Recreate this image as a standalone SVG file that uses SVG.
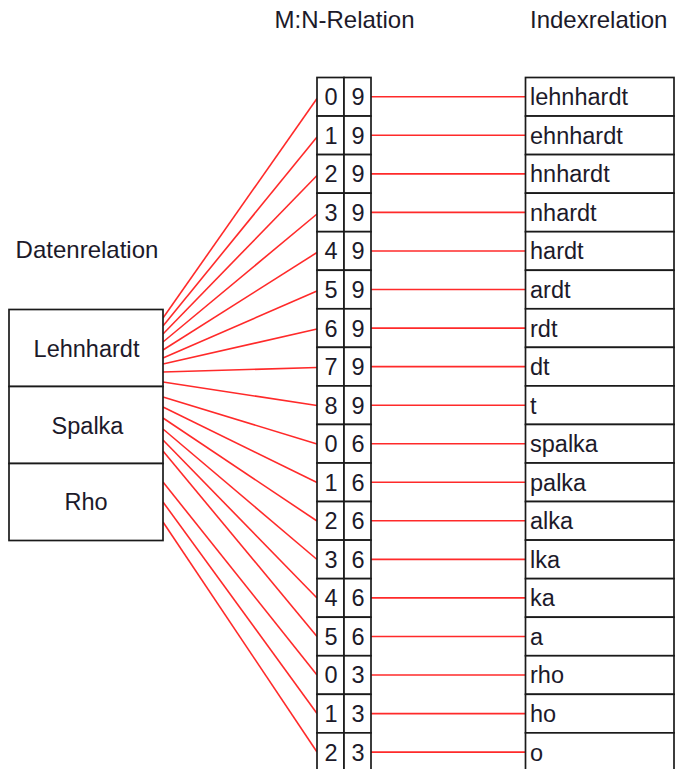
<svg xmlns="http://www.w3.org/2000/svg" width="675" height="769" viewBox="0 0 675 769">
  <style>
    .cell { fill: #ffffff; stroke: #1a1a1a; stroke-width: 1.7; }
    .txt { font-family: "Liberation Sans", Arial, sans-serif; font-size: 23.5px; fill: #1c1a2a; }
    .hdr { font-family: "Liberation Sans", Arial, sans-serif; font-size: 24px; fill: #1c1a2a; }
    .mid { text-anchor: middle; }
    .link { stroke: #ff2a2a; stroke-width: 1.6; fill: none; }
  </style>
  <rect width="675" height="769" fill="#ffffff"/>

  <!-- column headings -->
  <g id="headings">
    <text class="hdr mid" x="344.5" y="28">M:N-Relation</text>
    <text class="hdr" x="530" y="28">Indexrelation</text>
    <text class="hdr mid" x="87" y="258">Datenrelation</text>
  </g>

  <!-- connectors: data rows -> M:N rows -> index rows -->
  <g id="connectors">
    <path class="link" d="M163,318 L317,98.5"/>
    <path class="link" d="M163,326 L317,137"/>
    <path class="link" d="M163,334 L317,175.5"/>
    <path class="link" d="M163,342 L317,214"/>
    <path class="link" d="M163,350 L317,252.5"/>
    <path class="link" d="M163,358 L317,291"/>
    <path class="link" d="M163,364 L317,329"/>
    <path class="link" d="M163,372 L317,367.5"/>
    <path class="link" d="M163,382 L317,405.5"/>
    <path class="link" d="M163,397 L317,444"/>
    <path class="link" d="M163,407 L317,482.5"/>
    <path class="link" d="M163,418 L317,521"/>
    <path class="link" d="M163,429 L317,559.5"/>
    <path class="link" d="M163,440 L317,598"/>
    <path class="link" d="M163,451 L317,636.5"/>
    <path class="link" d="M163,482 L317,675"/>
    <path class="link" d="M163,502 L317,713.5"/>
    <path class="link" d="M163,522 L317,752"/>

    <path class="link" d="M371,96.8 H525.5"/>
    <path class="link" d="M371,135.3 H525.5"/>
    <path class="link" d="M371,173.9 H525.5"/>
    <path class="link" d="M371,212.4 H525.5"/>
    <path class="link" d="M371,251 H525.5"/>
    <path class="link" d="M371,289.5 H525.5"/>
    <path class="link" d="M371,328.1 H525.5"/>
    <path class="link" d="M371,366.6 H525.5"/>
    <path class="link" d="M371,405.2 H525.5"/>
    <path class="link" d="M371,443.7 H525.5"/>
    <path class="link" d="M371,482.3 H525.5"/>
    <path class="link" d="M371,520.8 H525.5"/>
    <path class="link" d="M371,559.4 H525.5"/>
    <path class="link" d="M371,597.9 H525.5"/>
    <path class="link" d="M371,636.5 H525.5"/>
    <path class="link" d="M371,675 H525.5"/>
    <path class="link" d="M371,713.6 H525.5"/>
    <path class="link" d="M371,752.1 H525.5"/>
  </g>

  <!-- Datenrelation -->
  <g id="daten-lehnhardt">
    <rect class="cell" x="9" y="309.5" width="154" height="77"/>
    <text class="txt mid" x="86.5" y="357">Lehnhardt</text>
  </g>
  <g id="daten-spalka">
    <rect class="cell" x="9" y="386.5" width="154" height="77"/>
    <text class="txt mid" x="87.5" y="433.5">Spalka</text>
  </g>
  <g id="daten-rho">
    <rect class="cell" x="9" y="463.5" width="154" height="77"/>
    <text class="txt mid" x="86" y="510">Rho</text>
  </g>

  <!-- M:N-Relation rows -->
  <g id="mn-0"><rect class="cell" x="317" y="77.5" width="27" height="38.55"/><rect class="cell" x="344" y="77.5" width="27" height="38.55"/><text class="txt mid" x="331" y="105.2">0</text><text class="txt mid" x="358" y="105.2">9</text></g>
  <g id="mn-1"><rect class="cell" x="317" y="116.05" width="27" height="38.55"/><rect class="cell" x="344" y="116.05" width="27" height="38.55"/><text class="txt mid" x="331" y="143.7">1</text><text class="txt mid" x="358" y="143.7">9</text></g>
  <g id="mn-2"><rect class="cell" x="317" y="154.6" width="27" height="38.55"/><rect class="cell" x="344" y="154.6" width="27" height="38.55"/><text class="txt mid" x="331" y="182.3">2</text><text class="txt mid" x="358" y="182.3">9</text></g>
  <g id="mn-3"><rect class="cell" x="317" y="193.15" width="27" height="38.55"/><rect class="cell" x="344" y="193.15" width="27" height="38.55"/><text class="txt mid" x="331" y="220.8">3</text><text class="txt mid" x="358" y="220.8">9</text></g>
  <g id="mn-4"><rect class="cell" x="317" y="231.7" width="27" height="38.55"/><rect class="cell" x="344" y="231.7" width="27" height="38.55"/><text class="txt mid" x="331" y="259.4">4</text><text class="txt mid" x="358" y="259.4">9</text></g>
  <g id="mn-5"><rect class="cell" x="317" y="270.25" width="27" height="38.55"/><rect class="cell" x="344" y="270.25" width="27" height="38.55"/><text class="txt mid" x="331" y="297.9">5</text><text class="txt mid" x="358" y="297.9">9</text></g>
  <g id="mn-6"><rect class="cell" x="317" y="308.8" width="27" height="38.55"/><rect class="cell" x="344" y="308.8" width="27" height="38.55"/><text class="txt mid" x="331" y="336.5">6</text><text class="txt mid" x="358" y="336.5">9</text></g>
  <g id="mn-7"><rect class="cell" x="317" y="347.35" width="27" height="38.55"/><rect class="cell" x="344" y="347.35" width="27" height="38.55"/><text class="txt mid" x="331" y="375">7</text><text class="txt mid" x="358" y="375">9</text></g>
  <g id="mn-8"><rect class="cell" x="317" y="385.9" width="27" height="38.55"/><rect class="cell" x="344" y="385.9" width="27" height="38.55"/><text class="txt mid" x="331" y="413.6">8</text><text class="txt mid" x="358" y="413.6">9</text></g>
  <g id="mn-9"><rect class="cell" x="317" y="424.45" width="27" height="38.55"/><rect class="cell" x="344" y="424.45" width="27" height="38.55"/><text class="txt mid" x="331" y="452.1">0</text><text class="txt mid" x="358" y="452.1">6</text></g>
  <g id="mn-10"><rect class="cell" x="317" y="463" width="27" height="38.55"/><rect class="cell" x="344" y="463" width="27" height="38.55"/><text class="txt mid" x="331" y="490.7">1</text><text class="txt mid" x="358" y="490.7">6</text></g>
  <g id="mn-11"><rect class="cell" x="317" y="501.55" width="27" height="38.55"/><rect class="cell" x="344" y="501.55" width="27" height="38.55"/><text class="txt mid" x="331" y="529.2">2</text><text class="txt mid" x="358" y="529.2">6</text></g>
  <g id="mn-12"><rect class="cell" x="317" y="540.1" width="27" height="38.55"/><rect class="cell" x="344" y="540.1" width="27" height="38.55"/><text class="txt mid" x="331" y="567.8">3</text><text class="txt mid" x="358" y="567.8">6</text></g>
  <g id="mn-13"><rect class="cell" x="317" y="578.65" width="27" height="38.55"/><rect class="cell" x="344" y="578.65" width="27" height="38.55"/><text class="txt mid" x="331" y="606.3">4</text><text class="txt mid" x="358" y="606.3">6</text></g>
  <g id="mn-14"><rect class="cell" x="317" y="617.2" width="27" height="38.55"/><rect class="cell" x="344" y="617.2" width="27" height="38.55"/><text class="txt mid" x="331" y="644.9">5</text><text class="txt mid" x="358" y="644.9">6</text></g>
  <g id="mn-15"><rect class="cell" x="317" y="655.75" width="27" height="38.55"/><rect class="cell" x="344" y="655.75" width="27" height="38.55"/><text class="txt mid" x="331" y="683.4">0</text><text class="txt mid" x="358" y="683.4">3</text></g>
  <g id="mn-16"><rect class="cell" x="317" y="694.3" width="27" height="38.55"/><rect class="cell" x="344" y="694.3" width="27" height="38.55"/><text class="txt mid" x="331" y="722">1</text><text class="txt mid" x="358" y="722">3</text></g>
  <g id="mn-17"><rect class="cell" x="317" y="732.85" width="27" height="38.55"/><rect class="cell" x="344" y="732.85" width="27" height="38.55"/><text class="txt mid" x="331" y="760.5">2</text><text class="txt mid" x="358" y="760.5">3</text></g>

  <!-- Indexrelation rows -->
  <g id="idx-0"><rect class="cell" x="525.5" y="77.5" width="148.5" height="38.55"/><text class="txt" x="530" y="105.2">lehnhardt</text></g>
  <g id="idx-1"><rect class="cell" x="525.5" y="116.05" width="148.5" height="38.55"/><text class="txt" x="530" y="143.7">ehnhardt</text></g>
  <g id="idx-2"><rect class="cell" x="525.5" y="154.6" width="148.5" height="38.55"/><text class="txt" x="530" y="182.3">hnhardt</text></g>
  <g id="idx-3"><rect class="cell" x="525.5" y="193.15" width="148.5" height="38.55"/><text class="txt" x="530" y="220.8">nhardt</text></g>
  <g id="idx-4"><rect class="cell" x="525.5" y="231.7" width="148.5" height="38.55"/><text class="txt" x="530" y="259.4">hardt</text></g>
  <g id="idx-5"><rect class="cell" x="525.5" y="270.25" width="148.5" height="38.55"/><text class="txt" x="530" y="297.9">ardt</text></g>
  <g id="idx-6"><rect class="cell" x="525.5" y="308.8" width="148.5" height="38.55"/><text class="txt" x="530" y="336.5">rdt</text></g>
  <g id="idx-7"><rect class="cell" x="525.5" y="347.35" width="148.5" height="38.55"/><text class="txt" x="530" y="375">dt</text></g>
  <g id="idx-8"><rect class="cell" x="525.5" y="385.9" width="148.5" height="38.55"/><text class="txt" x="530" y="413.6">t</text></g>
  <g id="idx-9"><rect class="cell" x="525.5" y="424.45" width="148.5" height="38.55"/><text class="txt" x="530" y="452.1">spalka</text></g>
  <g id="idx-10"><rect class="cell" x="525.5" y="463" width="148.5" height="38.55"/><text class="txt" x="530" y="490.7">palka</text></g>
  <g id="idx-11"><rect class="cell" x="525.5" y="501.55" width="148.5" height="38.55"/><text class="txt" x="530" y="529.2">alka</text></g>
  <g id="idx-12"><rect class="cell" x="525.5" y="540.1" width="148.5" height="38.55"/><text class="txt" x="530" y="567.8">lka</text></g>
  <g id="idx-13"><rect class="cell" x="525.5" y="578.65" width="148.5" height="38.55"/><text class="txt" x="530" y="606.3">ka</text></g>
  <g id="idx-14"><rect class="cell" x="525.5" y="617.2" width="148.5" height="38.55"/><text class="txt" x="530" y="644.9">a</text></g>
  <g id="idx-15"><rect class="cell" x="525.5" y="655.75" width="148.5" height="38.55"/><text class="txt" x="530" y="683.4">rho</text></g>
  <g id="idx-16"><rect class="cell" x="525.5" y="694.3" width="148.5" height="38.55"/><text class="txt" x="530" y="722">ho</text></g>
  <g id="idx-17"><rect class="cell" x="525.5" y="732.85" width="148.5" height="38.55"/><text class="txt" x="530" y="760.5">o</text></g>
</svg>
